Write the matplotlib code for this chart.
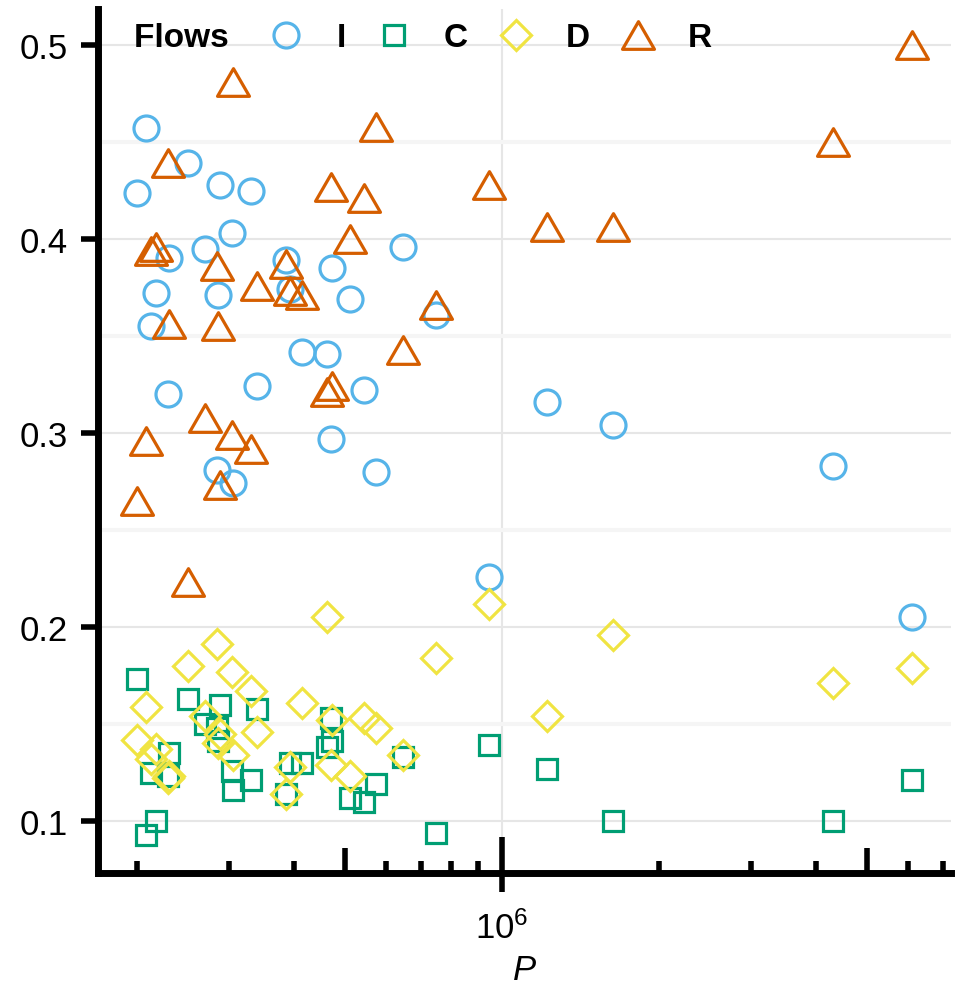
import matplotlib
matplotlib.use("Agg")
import matplotlib.pyplot as plt
from matplotlib.path import Path
from matplotlib.lines import Line2D
from matplotlib.ticker import FixedLocator, NullFormatter, MultipleLocator

plt.rcParams['font.family'] = ['Liberation Sans', 'DejaVu Sans']
plt.rcParams['mathtext.fontset'] = 'custom'
plt.rcParams['mathtext.rm'] = 'Liberation Sans'
plt.rcParams['mathtext.it'] = 'Liberation Sans:italic'

# P for each case and the share of the four flows (they add up to 1)
P = [199800, 207700, 212300, 217400, 229500, 230200, 250600, 269800,
     284100, 285400, 288300, 303600, 304900, 330100, 338900, 385700,
     392600, 413300, 461600, 470400, 471900, 511400, 543900, 573500,
     646200, 746400, 945600, 1219700, 1631600, 4306000, 6102000]
I = [0.424, 0.457, 0.355, 0.372, 0.320, 0.390, 0.439, 0.395,
     0.281, 0.371, 0.428, 0.403, 0.274, 0.425, 0.324, 0.389,
     0.374, 0.342, 0.341, 0.297, 0.385, 0.369, 0.322, 0.280,
     0.396, 0.361, 0.226, 0.316, 0.304, 0.283, 0.205]
C = [0.173, 0.093, 0.125, 0.100, 0.123, 0.135, 0.163, 0.150,
     0.148, 0.141, 0.160, 0.126, 0.116, 0.121, 0.158, 0.114,
     0.130, 0.130, 0.138, 0.153, 0.141, 0.112, 0.110, 0.119,
     0.133, 0.094, 0.139, 0.127, 0.100, 0.100, 0.121]
D = [0.142, 0.159, 0.132, 0.137, 0.122, 0.123, 0.180, 0.154,
     0.191, 0.140, 0.145, 0.177, 0.134, 0.167, 0.146, 0.114,
     0.128, 0.161, 0.205, 0.129, 0.152, 0.123, 0.153, 0.148,
     0.134, 0.184, 0.212, 0.154, 0.196, 0.171, 0.179]
R = [0.265, 0.296, 0.394, 0.396, 0.439, 0.356, 0.223, 0.308,
     0.386, 0.355, 0.273, 0.299, 0.481, 0.292, 0.376, 0.387,
     0.373, 0.371, 0.321, 0.427, 0.324, 0.400, 0.421, 0.458,
     0.343, 0.366, 0.428, 0.406, 0.406, 0.450, 0.500]

flow_names = ['I', 'C', 'D', 'R']
flow_colors = {'I': '#56B4E9', 'C': '#009E73', 'D': '#F0E442', 'R': '#D55E00'}

# gleichseitiges Dreieck als Marker
triangle = Path([(-1, -0.866), (1, -0.866), (0, 0.866), (-1, -0.866)], closed=True)
flow_markers = {'I': ('o', 18), 'C': ('s', 15), 'D': ('D', 15), 'R': (triangle, 23)}
flow_values = {'I': I, 'C': C, 'D': D, 'R': R}

fig = plt.figure(figsize=(9.61, 9.87), dpi=100)
ax = fig.add_axes([98 / 961, 113 / 987, 853 / 961, 864 / 987])

lines = []
for name in flow_names:
    marker, size = flow_markers[name]
    line, = ax.plot(P, flow_values[name], linestyle='none', marker=marker, markersize=size,
                    markerfacecolor='none', markeredgecolor=flow_colors[name],
                    markeredgewidth=2.3, label=name)
    lines.append(line)

ax.set_xscale('log')
ax.set_xlim(168300, 7249000)
ax.set_ylim(0.0732, 0.5186)

# Achsen
for side in ['top', 'right']:
    ax.spines[side].set_visible(False)
for side in ['left', 'bottom']:
    ax.spines[side].set_linewidth(5)
    ax.spines[side].set_capstyle('projecting')

ax.yaxis.set_major_locator(FixedLocator([0.1, 0.2, 0.3, 0.4, 0.5]))
ax.yaxis.set_minor_locator(MultipleLocator(0.05))
ax.xaxis.set_major_locator(FixedLocator([1e6]))
minor_locs = [2e5, 3e5, 4e5, 5e5, 6e5, 7e5, 8e5, 9e5, 1e6, 2e6, 3e6, 4e6, 5e6, 6e6, 7e6]
ax.xaxis.set_minor_locator(FixedLocator(minor_locs))
ax.xaxis.set_minor_formatter(NullFormatter())
ax.xaxis.remove_overlapping_locs = False

ax.set_axisbelow(True)
ax.grid(True, which='major', color='#e6e6e6', linewidth=1.5)
ax.grid(True, which='minor', axis='y', color='#f5f5f5', linewidth=3)
ax.grid(False, which='minor', axis='x')

ax.tick_params(axis='y', which='major', direction='out', length=12, width=4, pad=10, labelsize=25)
ax.tick_params(axis='y', which='minor', length=0)
ax.tick_params(axis='x', which='major', direction='out', length=14, width=4, pad=13, labelsize=25)
ax.tick_params(axis='x', which='minor', direction='in', length=8.6, width=4)

# laengere Striche bei 5e5, 5e6 und der innere Teil bei 1e6
for tick, loc in zip(ax.xaxis.get_minor_ticks(len(minor_locs)), minor_locs):
    if loc == 1e6:
        tick.tick1line.set_markersize(26)
    elif loc in (5e5, 5e6):
        tick.tick1line.set_markersize(18)

ax.set_xlabel('P', fontsize=25, fontstyle='italic', labelpad=6)

handles = [Line2D([], [], linestyle='none')] + lines
labels = ['Flows '] + flow_names
ax.legend(handles, labels, loc='upper left', bbox_to_anchor=(-0.051, 1.0), ncol=5,
          frameon=False, prop={'weight': 'bold', 'size': 24}, handlelength=1.0,
          handletextpad=1.0, columnspacing=0.94, borderaxespad=0, borderpad=0.4)

fig.savefig('out.png', dpi=100)
